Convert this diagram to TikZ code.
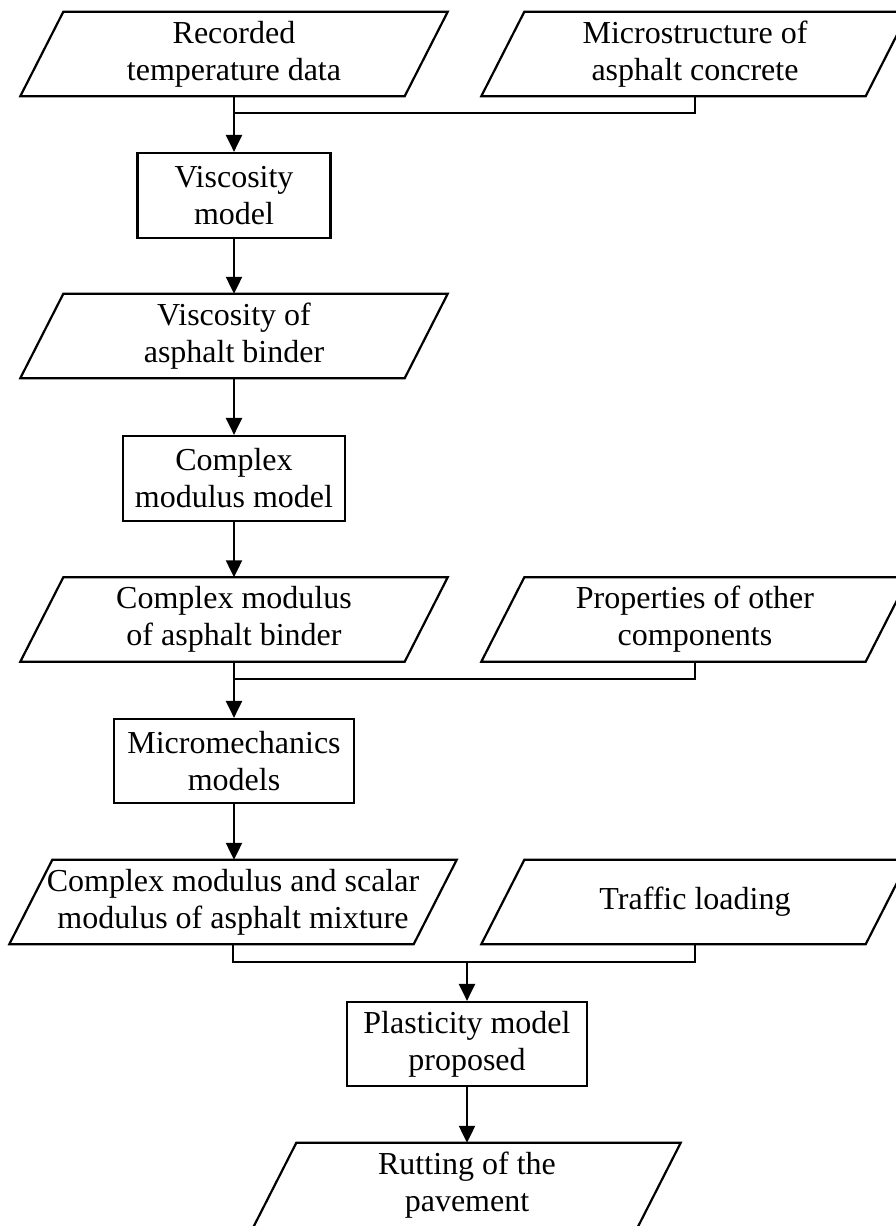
\documentclass[tikz,border=0pt]{standalone}
\usepackage{fontspec}
\setmainfont{Liberation Serif}
\usetikzlibrary{arrows.meta}
\begin{document}
\begin{tikzpicture}[x=1pt,y=-1pt,
  every node/.style={font=\fontsize{32}{37}\selectfont, align=center, inner sep=0pt},
  procbox/.style={draw, line width=2.2pt, minimum height=85pt},
  iobox/.style={minimum width=384pt, minimum height=84pt},
  conn/.style={line width=2.2pt},
  arr/.style={conn, -{Triangle[length=17pt,width=16pt]}}]
\useasboundingbox (0,0) rectangle (896,1226);
% input/output parallelogram nodes (outline drawn below)
\node[iobox] (rec) at (234,54) {Recorded\\temperature data};
\node[iobox] (mic) at (695,54) {Microstructure of\\asphalt concrete};
\node[procbox, minimum width=193pt] (vm) at (234,195.5) {Viscosity\\model};
\node[iobox] (vb) at (234,336) {Viscosity of\\asphalt binder};
\node[procbox, minimum width=222pt] (cmm) at (234,478.5) {Complex\\modulus model};
\node[iobox] (cmb) at (234,619.5) {Complex modulus\\of asphalt binder};
\node[iobox] (prop) at (695,619.5) {Properties of other\\components};
\node[procbox, minimum width=240pt, minimum height=84pt] (mm) at (234,761) {Micromechanics\\models};
\node[iobox, minimum width=404pt] (cms) at (233,902) {Complex modulus and scalar\\modulus of asphalt mixture};
\node[iobox] (tl) at (695,902) {Traffic loading};
\node[procbox, minimum width=240pt, minimum height=84pt] (pm) at (467,1044) {Plasticity model\\proposed};
\node[iobox] (rut) at (467,1185) {Rutting of the\\pavement};
\foreach \n in {rec,mic,vb,cmb,prop,cms,tl,rut}
  \draw[line width=2.2pt, line join=miter] ([xshift=21.5pt]\n.north west) -- ([xshift=21.5pt]\n.north east)
    -- ([xshift=-21.5pt]\n.south east) -- ([xshift=-21.5pt]\n.south west) -- cycle;
% junction coordinates
\coordinate (j1) at (234,113);
\coordinate (j2) at (234,679);
\coordinate (j3a) at (233,962);
\coordinate (j3) at (467,962);
% connectors
\draw[arr] (rec.south) -- (vm.north);
\draw[conn] (mic.south) |- (j1);
\draw[arr] (vm.south) -- (vb.north);
\draw[arr] (vb.south) -- (cmm.north);
\draw[arr] (cmm.south) -- (cmb.north);
\draw[arr] (cmb.south) -- (mm.north);
\draw[conn] (prop.south) |- (j2);
\draw[arr] (mm.south) -- (mm.south |- cms.north);
\draw[conn] (cms.south) |- (tl.south |- j3a) -- (tl.south);
\draw[arr] (j3) -- (pm.north);
\draw[arr] (pm.south) -- (rut.north);
\end{tikzpicture}
\end{document}
